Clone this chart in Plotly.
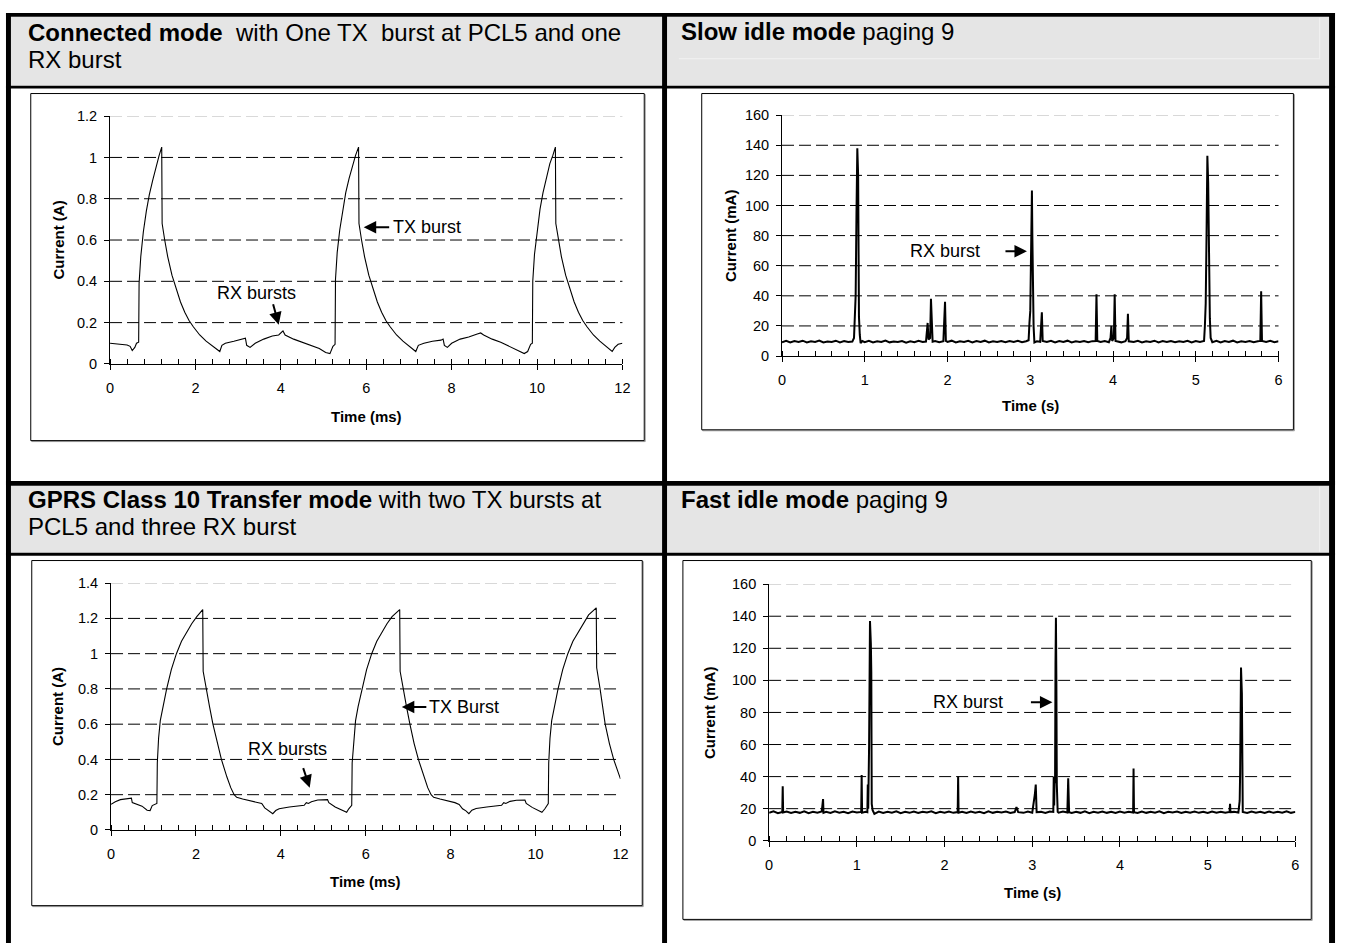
import plotly.graph_objects as go

W, H = 1346, 951

# ---------------- data ----------------
# Connected mode: one TX burst at PCL5 and one RX burst  (time ms, current A)
CONN_T = [0.00, 0.20, 0.40, 0.47, 0.52, 0.58, 0.62, 0.67, 0.68, 0.72, 0.78, 0.85, 0.92, 1.00, 1.08, 1.15, 1.21,
          1.22, 1.28, 1.35, 1.45, 1.55, 1.65, 1.75, 1.85, 1.95, 2.10, 2.25, 2.40, 2.50, 2.57, 2.62, 2.70, 2.90,
          3.10, 3.17, 3.20, 3.28, 3.40, 3.60, 3.80, 3.95, 4.05, 4.10, 4.30, 4.50, 4.70, 4.90, 5.05, 5.15, 5.22,
          5.27, 5.28, 5.32, 5.38, 5.45, 5.52, 5.60, 5.68, 5.75, 5.82, 5.83, 5.89, 5.96, 6.06, 6.16, 6.26, 6.36,
          6.46, 6.56, 6.71, 6.86, 7.01, 7.10, 7.16, 7.22, 7.35, 7.55, 7.75, 7.80, 7.83, 7.90, 8.00, 8.20, 8.40,
          8.60, 8.68, 8.75, 8.95, 9.15, 9.35, 9.55, 9.70, 9.78, 9.85, 9.89, 9.90, 9.94, 10.00, 10.07, 10.14,
          10.22, 10.30, 10.37, 10.43, 10.44, 10.50, 10.57, 10.67, 10.77, 10.87, 10.97, 11.07, 11.17, 11.32,
          11.47, 11.62, 11.70, 11.76, 11.82, 11.90, 12.00]
CONN_A = [0.100, 0.097, 0.092, 0.085, 0.065, 0.080, 0.100, 0.105, 0.390, 0.520, 0.640, 0.740, 0.820, 0.890,
          0.960, 1.010, 1.050, 0.680, 0.600, 0.520, 0.430, 0.360, 0.300, 0.250, 0.210, 0.180, 0.140, 0.110,
          0.085, 0.070, 0.060, 0.090, 0.100, 0.110, 0.120, 0.125, 0.090, 0.080, 0.100, 0.120, 0.135, 0.140,
          0.160, 0.140, 0.120, 0.105, 0.090, 0.075, 0.055, 0.050, 0.085, 0.095, 0.410, 0.540, 0.650, 0.750,
          0.830, 0.900, 0.960, 1.010, 1.050, 0.680, 0.600, 0.520, 0.430, 0.360, 0.300, 0.250, 0.210, 0.180,
          0.140, 0.110, 0.085, 0.070, 0.060, 0.090, 0.100, 0.110, 0.115, 0.120, 0.090, 0.080, 0.100, 0.120,
          0.130, 0.145, 0.150, 0.140, 0.120, 0.105, 0.085, 0.065, 0.050, 0.060, 0.095, 0.100, 0.400, 0.530,
          0.640, 0.750, 0.830, 0.900, 0.970, 1.010, 1.050, 0.680, 0.600, 0.520, 0.430, 0.360, 0.300, 0.250,
          0.210, 0.180, 0.140, 0.110, 0.085, 0.070, 0.060, 0.080, 0.095, 0.100]

# GPRS class 10 transfer mode (time ms, current A)
GPRS_T = [0.00, 0.10, 0.22, 0.35, 0.48, 0.50, 0.62, 0.73, 0.85, 0.92, 0.97, 1.05, 1.08, 1.09, 1.12, 1.16, 1.22,
          1.31, 1.42, 1.54, 1.66, 1.78, 1.90, 2.02, 2.16, 2.17, 2.24, 2.32, 2.40, 2.50, 2.60, 2.73, 2.82, 2.90,
          2.96, 3.10, 3.30, 3.46, 3.55, 3.62, 3.72, 3.81, 3.88, 3.96, 4.20, 4.40, 4.55, 4.60, 4.65, 4.72, 4.87,
          5.10, 5.13, 5.28, 5.45, 5.55, 5.60, 5.67, 5.68, 5.72, 5.76, 5.82, 5.91, 6.02, 6.14, 6.26, 6.38, 6.50,
          6.62, 6.80, 6.81, 6.88, 6.96, 7.04, 7.14, 7.24, 7.37, 7.46, 7.54, 7.60, 7.75, 7.95, 8.10, 8.20, 8.28,
          8.36, 8.43, 8.50, 8.60, 8.85, 9.05, 9.20, 9.25, 9.30, 9.40, 9.55, 9.75, 9.78, 9.92, 10.05, 10.15,
          10.22, 10.28, 10.30, 10.31, 10.34, 10.38, 10.44, 10.53, 10.64, 10.76, 10.88, 11.00, 11.12, 11.25,
          11.43, 11.44, 11.52, 11.58, 11.64, 11.74, 11.84, 12.00]
GPRS_A = [0.145, 0.160, 0.172, 0.178, 0.180, 0.155, 0.145, 0.135, 0.112, 0.110, 0.138, 0.145, 0.150, 0.380,
          0.520, 0.620, 0.700, 0.800, 0.910, 1.000, 1.070, 1.120, 1.170, 1.210, 1.250, 0.900, 0.800, 0.700,
          0.600, 0.490, 0.400, 0.300, 0.240, 0.200, 0.185, 0.175, 0.165, 0.155, 0.150, 0.125, 0.108, 0.092,
          0.110, 0.120, 0.130, 0.135, 0.140, 0.155, 0.150, 0.160, 0.170, 0.172, 0.155, 0.130, 0.110, 0.100,
          0.120, 0.140, 0.380, 0.520, 0.620, 0.700, 0.800, 0.910, 1.000, 1.070, 1.120, 1.170, 1.210, 1.250,
          0.900, 0.800, 0.700, 0.600, 0.490, 0.400, 0.300, 0.240, 0.200, 0.185, 0.175, 0.165, 0.155, 0.145,
          0.120, 0.108, 0.092, 0.112, 0.122, 0.130, 0.135, 0.140, 0.155, 0.150, 0.162, 0.168, 0.170, 0.150,
          0.128, 0.110, 0.100, 0.120, 0.140, 0.150, 0.380, 0.520, 0.620, 0.700, 0.800, 0.910, 1.000, 1.070,
          1.120, 1.170, 1.220, 1.260, 0.920, 0.800, 0.700, 0.600, 0.490, 0.400, 0.290]

# Slow idle mode, paging 9 (time s, current mA)
SLOW_T = [0.00, 0.05, 0.10, 0.15, 0.20, 0.25, 0.30, 0.35, 0.40, 0.45, 0.50, 0.55, 0.60, 0.65, 0.70, 0.75, 0.80,
          0.85, 0.87, 0.88, 0.89, 0.90, 0.91, 0.92, 0.925, 0.93, 0.94, 0.95, 0.97, 1.00, 1.05, 1.10, 1.15, 1.20,
          1.25, 1.30, 1.35, 1.40, 1.45, 1.50, 1.55, 1.60, 1.65, 1.70, 1.74, 1.75, 1.76, 1.77, 1.79, 1.80, 1.81,
          1.82, 1.85, 1.90, 1.95, 1.96, 1.97, 1.98, 2.00, 2.05, 2.10, 2.15, 2.20, 2.25, 2.30, 2.35, 2.40, 2.45,
          2.50, 2.55, 2.60, 2.65, 2.70, 2.75, 2.80, 2.85, 2.90, 2.95, 2.98, 2.99, 3.00, 3.01, 3.02, 3.025, 3.03,
          3.04, 3.05, 3.08, 3.12, 3.13, 3.14, 3.15, 3.20, 3.25, 3.30, 3.35, 3.40, 3.45, 3.50, 3.55, 3.60, 3.65,
          3.70, 3.75, 3.79, 3.80, 3.81, 3.85, 3.90, 3.95, 3.97, 3.98, 3.99, 4.01, 4.02, 4.03, 4.05, 4.10, 4.15,
          4.17, 4.18, 4.19, 4.25, 4.30, 4.35, 4.40, 4.45, 4.50, 4.55, 4.60, 4.65, 4.70, 4.75, 4.80, 4.85, 4.90,
          4.95, 5.00, 5.05, 5.10, 5.11, 5.12, 5.13, 5.14, 5.15, 5.16, 5.17, 5.18, 5.20, 5.25, 5.30, 5.35, 5.40,
          5.45, 5.50, 5.55, 5.60, 5.65, 5.70, 5.75, 5.78, 5.79, 5.80, 5.85, 5.90, 5.95, 6.00]
SLOW_MA = [9.2, 10.1, 9.0, 9.9, 9.4, 10.2, 9.1, 9.8, 9.3, 10.3, 9.0, 9.7, 9.4, 10.2, 9.1, 9.9, 9.3,
           9.6, 12, 22, 40, 95, 138, 120, 60, 26, 14, 8.6, 10.0, 9.2, 10.1, 9.0, 9.8, 9.3,
           10.3, 9.1, 9.7, 9.4, 10.0, 8.9, 9.8, 9.2, 10.1, 9.3, 9.6, 16, 22, 11, 12, 38, 14,
           9.5, 9.9, 9.2, 9.8, 20, 36, 10, 9.4, 10.2, 9.0, 9.8, 9.3, 10.1, 9.1, 9.9, 9.4, 10.2,
           9.0, 9.8, 9.3, 10.0, 9.2, 9.9, 9.4, 10.1, 9.2, 9.8, 10.5, 22, 30, 70, 110, 80, 30,
           20, 9.0, 9.8, 9.5, 20, 29, 10, 9.3, 10.1, 9.0, 9.9, 9.3, 10.2, 9.1, 9.8, 9.4, 10.0,
           9.2, 9.9, 10, 41, 10, 9.3, 9.9, 9.2, 12, 20, 10, 12, 41, 10, 9.6, 9.1, 9.9,
           12, 28, 9.8, 9.3, 10.1, 9.0, 9.8, 9.4, 10.2, 9.1, 9.9, 9.3, 10.0, 9.2, 9.8, 9.4, 10.1,
           9.1, 9.9, 9.4, 10, 20, 35, 80, 133, 115, 60, 25, 12, 9.2, 10.1, 9.0, 9.9, 9.3,
           10.2, 9.1, 9.8, 9.4, 10.0, 9.2, 9.8, 10, 43, 10, 9.4, 10.1, 9.2, 9.8]

# Fast idle mode, paging 9 (time s, current mA)
FAST_T = [0.00, 0.05, 0.10, 0.15, 0.155, 0.16, 0.20, 0.25, 0.30, 0.35, 0.40, 0.45, 0.50, 0.55, 0.60, 0.615,
          0.62, 0.65, 0.70, 0.75, 0.80, 0.85, 0.90, 0.95, 1.00, 1.05, 1.055, 1.06, 1.10, 1.12, 1.125, 1.13,
          1.14, 1.15, 1.16, 1.165, 1.17, 1.18, 1.20, 1.25, 1.30, 1.35, 1.40, 1.45, 1.50, 1.55, 1.60, 1.65,
          1.70, 1.75, 1.80, 1.85, 1.90, 1.95, 2.00, 2.05, 2.10, 2.15, 2.155, 2.16, 2.20, 2.25, 2.30, 2.35,
          2.40, 2.45, 2.50, 2.55, 2.60, 2.65, 2.70, 2.75, 2.80, 2.82, 2.84, 2.90, 2.95, 3.00, 3.03, 3.04,
          3.05, 3.10, 3.15, 3.20, 3.24, 3.245, 3.25, 3.255, 3.26, 3.265, 3.27, 3.275, 3.28, 3.29, 3.30, 3.35,
          3.40, 3.41, 3.42, 3.45, 3.50, 3.55, 3.60, 3.65, 3.70, 3.75, 3.80, 3.85, 3.90, 3.95, 4.00, 4.05,
          4.10, 4.15, 4.155, 4.16, 4.20, 4.25, 4.30, 4.35, 4.40, 4.45, 4.50, 4.55, 4.60, 4.65, 4.70, 4.75,
          4.80, 4.85, 4.90, 4.95, 5.00, 5.05, 5.10, 5.15, 5.20, 5.25, 5.255, 5.26, 5.30, 5.35, 5.365, 5.37,
          5.38, 5.39, 5.395, 5.40, 5.45, 5.50, 5.55, 5.60, 5.65, 5.70, 5.75, 5.80, 5.85, 5.90, 5.95, 6.00]
FAST_MA = [17.5, 18.3, 17.2, 18.0, 34, 17.6, 18.2, 17.3, 18.1, 17.4, 18.4, 17.2, 18.0, 17.5, 18.2, 26,
           17.4, 18.1, 17.3, 18.3, 17.5, 18.0, 17.2, 18.2, 17.6, 18.0, 41, 17.5, 18.1, 17.8, 35, 20,
           60, 137, 123, 105, 23, 19, 16.8, 18.2, 17.3, 18.1, 17.5, 18.3, 17.2, 18.0, 17.4, 18.2,
           17.3, 18.1, 17.6, 18.3, 17.2, 18.0, 17.5, 18.2, 17.4, 17.9, 40, 17.5, 18.1, 17.3, 18.2, 17.5,
           18.0, 17.2, 18.3, 17.4, 18.1, 17.6, 18.2, 17.3, 17.9, 21, 17.8, 17.4, 18.2, 17.5, 29, 35,
           17.8, 18.0, 17.3, 18.2, 18.0, 40, 22, 38, 36, 110, 139, 100, 35, 18, 17.5, 18.2,
           17.6, 39, 17.8, 17.3, 18.1, 17.4, 18.3, 17.2, 18.0, 17.5, 18.2, 17.4, 18.1, 17.3, 18.2, 17.5,
           18.0, 17.6, 45, 17.8, 17.3, 18.2, 17.4, 18.1, 17.5, 18.3, 17.2, 18.0, 17.6, 18.2, 17.3, 18.1,
           17.5, 18.2, 17.4, 18.0, 17.3, 18.2, 17.5, 18.1, 17.4, 18.0, 23, 17.8, 18.0, 17.6, 25, 42,
           108, 92, 30, 18.0, 17.3, 18.2, 17.5, 18.1, 17.3, 18.2, 17.4, 18.0, 17.5, 18.3, 17.4, 18.0]

# tick labels
MS_TICKS = [0, 2, 4, 6, 8, 10, 12]
S_TICKS = [0, 1, 2, 3, 4, 5, 6]
A12_TICKS = [0, 0.2, 0.4, 0.6, 0.8, 1, 1.2]
A14_TICKS = [0, 0.2, 0.4, 0.6, 0.8, 1, 1.2, 1.4]
MA_TICKS = [0, 20, 40, 60, 80, 100, 120, 140, 160]

# header texts (one entry per line)
NB = "\u00a0"
HEAD_TL = ["<b>Connected mode</b>" + NB + NB + "with One TX" + NB + NB + "burst at PCL5 and one", "RX burst"]
HEAD_TR = ["<b>Slow idle mode</b> paging 9"]
HEAD_BL = ["<b>GPRS Class 10 Transfer mode</b> with two TX bursts at", "PCL5 and three RX burst"]
HEAD_BR = ["<b>Fast idle mode</b> paging 9"]

FONT = "Liberation Sans, Arial, Helvetica, sans-serif"


def px(x):
    return x / W


def py(y):
    return 1 - y / H


fig = go.Figure()

panels = [
    dict(n="", t=CONN_T, v=CONN_A, lw=1.1, xl=107, xr=624, yb=362, yt=110, xmax=12, ymax=1.2,
         xt=MS_TICKS, yt_=A12_TICKS, minor=0.4, xtitle="Time (ms)", ytitle="Current (A)",
         xtitle_y=415, ytitle_x=55),
    dict(n="2", t=SLOW_T, v=SLOW_MA, lw=2.0, xl=785, xr=1286, yb=354, yt=109, xmax=6, ymax=160,
         xt=S_TICKS, yt_=MA_TICKS, minor=0.2, xtitle="Time (s)", ytitle="Current (mA)",
         xtitle_y=404, ytitle_x=733),
    dict(n="3", t=GPRS_T, v=GPRS_A, lw=1.1, xl=108, xr=622, yb=836, yt=585, xmax=12, ymax=1.4,
         xt=MS_TICKS, yt_=A14_TICKS, minor=0.4, xtitle="Time (ms)", ytitle="Current (A)",
         xtitle_y=888, ytitle_x=54),
    dict(n="4", t=FAST_T, v=FAST_MA, lw=2.0, xl=772, xr=1303, yb=847, yt=586, xmax=6, ymax=160,
         xt=S_TICKS, yt_=MA_TICKS, minor=0.2, xtitle="Time (s)", ytitle="Current (mA)",
         xtitle_y=900, ytitle_x=712),
]

shapes = []
annotations = []


def rect(x0, x1, y0, y1, **kw):
    d = dict(type="rect", xref="paper", yref="paper", x0=px(x0), x1=px(x1), y0=py(y1), y1=py(y0))
    d.update(kw)
    return d


# ---------------- table decoration ----------------
GRAY = "#e5e5e5"
for (x0, x1, y0, y1) in [(7, 664, 9, 79), (669, 1337, 9, 79), (7, 664, 486, 554), (669, 1337, 486, 554)]:
    shapes.append(rect(x0, x1, y0, y1, fillcolor=GRAY, line=dict(width=0), layer="below"))
for (x0, x1, y0, y1) in [(681, 1327, 51, 52), (1327, 1328, 10, 52), (1327, 1328, 487, 553)]:
    shapes.append(rect(x0, x1, y0, y1, fillcolor="#f2f2f2", line=dict(width=0), layer="below"))
for (x0, x1, y0, y1) in [(2, 1343, 5, 9), (2, 7, 5, 951), (1337, 1343, 5, 951), (664, 669, 5, 951),
                         (2, 1343, 79, 82), (2, 1343, 481, 486), (2, 1343, 554, 557)]:
    shapes.append(rect(x0, x1, y0, y1, fillcolor="black", line=dict(width=0), layer="above"))
for (x0, x1, y0, y1) in [(27, 646, 87, 440), (704, 1301, 87, 429), (28, 644, 562, 913), (685, 1319, 562, 927)]:
    shapes.append(rect(x0 + 1, x1 + 1, y0 + 1, y1 + 1, fillcolor="rgba(0,0,0,0)",
                       line=dict(width=1, color="#999"), layer="below"))
    shapes.append(rect(x0, x1, y0, y1, fillcolor="white", line=dict(width=1, color="black"), layer="below"))

# header texts, one annotation per line (27px line pitch)
for lines, x, y in [(HEAD_TL, 22, 25), (HEAD_TR, 681, 24), (HEAD_BL, 22, 500), (HEAD_BR, 681, 500)]:
    for i, txt in enumerate(lines):
        annotations.append(dict(text=txt, xref="paper", yref="paper", x=px(x), y=py(y + 27 * i),
                                xanchor="left", yanchor="middle", align="left", showarrow=False,
                                font=dict(family=FONT, size=24, color="black")))

layout_axes = {}
for k, p in enumerate(panels):
    n = p["n"]
    xa = "x" + n
    ya = "y" + n
    fig.add_trace(go.Scatter(x=p["t"], y=p["v"], mode="lines", xaxis=xa, yaxis=ya,
                             line=dict(color="black", width=p["lw"]), hoverinfo="skip", showlegend=False))
    xdom = [px(p["xl"]), px(p["xr"])]
    ydom = [py(p["yb"]), py(p["yt"])]
    tick_font = dict(family=FONT, size=14.5, color="black")
    layout_axes["xaxis" + n] = dict(
        domain=xdom, range=[0, p["xmax"]], anchor=ya, showgrid=False, zeroline=False,
        showline=True, linecolor="black", linewidth=1,
        tickmode="array", tickvals=p["xt"], ticktext=[str(v) for v in p["xt"]],
        ticks="outside", ticklen=5, tickcolor="black", tickwidth=1, ticklabelstandoff=6,
        tickfont=tick_font,
        minor=dict(dtick=p["minor"], tick0=0, ticks="inside", ticklen=5, tickcolor="black", tickwidth=1,
                   showgrid=False),
        fixedrange=True)
    # overlay axis drawing the upper half of the crossing major ticks
    ov = str(5 + k)
    fig.add_trace(go.Scatter(x=[], y=[], mode="lines", xaxis="x" + ov, yaxis=ya, hoverinfo="skip",
                             showlegend=False))
    layout_axes["xaxis" + ov] = dict(
        domain=xdom, range=[0, p["xmax"]], anchor=ya, overlaying=xa, showgrid=False, zeroline=False,
        showline=False, tickmode="array", tickvals=p["xt"], showticklabels=False,
        ticks="inside", ticklen=5, tickcolor="black", tickwidth=1, fixedrange=True)
    layout_axes["yaxis" + n] = dict(
        domain=ydom, range=[0, p["ymax"]], anchor=xa, showgrid=False, zeroline=False,
        showline=True, linecolor="black", linewidth=1,
        tickmode="array", tickvals=p["yt_"], ticktext=[str(v) for v in p["yt_"]],
        ticks="outside", ticklen=5, tickcolor="black", tickwidth=1, ticklabelstandoff=4,
        tickfont=tick_font, fixedrange=True)
    for v in p["yt_"][1:]:
        col = "#b0b0b0" if v == p["yt_"][-1] else "black"
        shapes.append(dict(type="line", xref=xa + " domain", yref=ya, x0=0, x1=1, y0=v, y1=v,
                           line=dict(color=col, width=1, dash="12px,5px"), layer="below"))
    annotations.append(dict(text="<b>%s</b>" % p["xtitle"], xref=xa + " domain", yref="paper", x=0.5,
                            y=py(p["xtitle_y"]), xanchor="center", yanchor="middle", showarrow=False,
                            font=dict(family=FONT, size=15, color="black")))
    annotations.append(dict(text="<b>%s</b>" % p["ytitle"], xref="paper", yref=ya + " domain",
                            x=px(p["ytitle_x"]), y=0.5, xanchor="center", yanchor="middle", textangle=-90,
                            showarrow=False, font=dict(family=FONT, size=15, color="black")))

# ---------------- callouts ----------------
ANN_FONT = dict(family=FONT, size=18, color="black")
ARROW = dict(showarrow=True, arrowhead=2, arrowsize=1.25, arrowwidth=2, arrowcolor="black", text="",
             axref="pixel", ayref="pixel", standoff=0, startstandoff=0)
annotations.append(dict(x=5.94, y=0.662, xref="x", yref="y", ax=27, ay=0, **ARROW))
annotations.append(dict(text="TX burst", x=6.57, y=0.662, xref="x", yref="y", xanchor="left",
                        yanchor="middle", showarrow=False, font=ANN_FONT))
annotations.append(dict(x=3.95, y=0.19, xref="x", yref="y", ax=-6, ay=-22, **ARROW))
annotations.append(dict(text="RX bursts", x=3.43, y=0.345, xref="x", yref="y", xanchor="center",
                        yanchor="middle", showarrow=False, font=ANN_FONT))
annotations.append(dict(x=2.96, y=69.6, xref="x2", yref="y2", ax=-23, ay=0, **ARROW))
annotations.append(dict(text="RX burst", x=1.97, y=69.6, xref="x2", yref="y2", xanchor="center",
                        yanchor="middle", showarrow=False, font=ANN_FONT))
annotations.append(dict(x=6.85, y=0.697, xref="x3", yref="y3", ax=26, ay=0, **ARROW))
annotations.append(dict(text="TX Burst", x=7.45, y=0.697, xref="x3", yref="y3", xanchor="left",
                        yanchor="middle", showarrow=False, font=ANN_FONT))
annotations.append(dict(x=4.68, y=0.24, xref="x3", yref="y3", ax=-7, ay=-21, **ARROW))
annotations.append(dict(text="RX bursts", x=4.16, y=0.46, xref="x3", yref="y3", xanchor="center",
                        yanchor="middle", showarrow=False, font=ANN_FONT))
annotations.append(dict(x=3.23, y=86.4, xref="x4", yref="y4", ax=-23, ay=0, **ARROW))
annotations.append(dict(text="RX burst", x=2.27, y=86.4, xref="x4", yref="y4", xanchor="center",
                        yanchor="middle", showarrow=False, font=ANN_FONT))

fig.update_layout(
    width=W, height=H, autosize=False,
    margin=dict(l=0, r=0, t=0, b=0, pad=0),
    paper_bgcolor="white", plot_bgcolor="rgba(0,0,0,0)",
    font=dict(family=FONT, color="black"),
    showlegend=False,
    shapes=shapes, annotations=annotations,
    **layout_axes,
)

# remove the default 8px body margin so the 1346x951 figure fills the window exactly
fig.write_html("out.html", config=dict(displayModeBar=False, staticPlot=True),
               post_script="document.body.style.margin='0';document.body.style.overflow='hidden';")
